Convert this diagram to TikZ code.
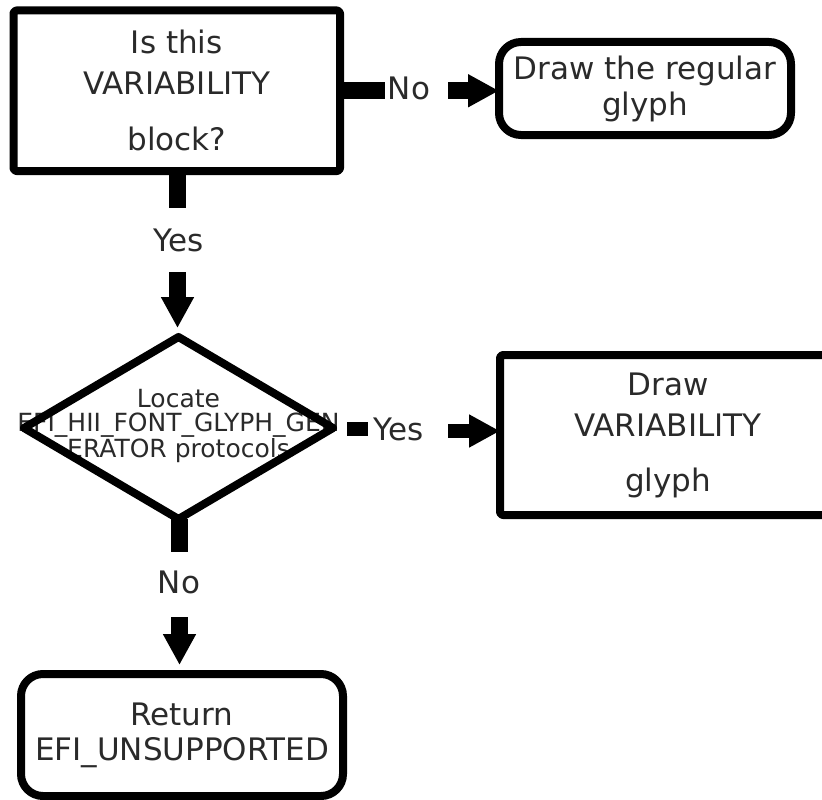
\documentclass[tikz,border=0pt]{standalone}
\usepackage{fontspec}
\setmainfont{DejaVu Sans}
\usetikzlibrary{arrows.meta,shapes.geometric}
\definecolor{txt}{HTML}{2A2A2A}
\begin{document}
\begin{tikzpicture}[x=1pt,y=-1pt,
  box/.style={draw=black, line width=8pt, fill=white, inner sep=0pt, outer sep=0pt, align=center, text=txt, font=\fontsize{31}{41}\selectfont, line join=round},
  sharpbox/.style={box, rounded corners=3pt},
  roundbox/.style={box, rounded corners=22pt},
  lbl/.style={text=txt, font=\fontsize{31}{37}\selectfont, inner sep=0pt},
  stub/.style={line width=17pt, line cap=butt},
  arr/.style={line width=17pt, -{Triangle[length=31pt,width=31pt]}},
]
\clip (0,0) rectangle (822,800);
\fill[white] (0,0) rectangle (822,800);

% boxes
\node[sharpbox, minimum width=326.5pt, minimum height=160.5pt] (q1) at (176.75,90.75) {Is this\\VARIABILITY\\[15pt]block?};
\node[roundbox, minimum width=292pt, minimum height=93pt, font=\fontsize{31}{36}\selectfont] (regular) at (645,88.5) {Draw the regular\\glyph};
\node[sharpbox, minimum width=336pt, minimum height=160pt] (varglyph) at (668,435) {Draw\\VARIABILITY\\[14pt]glyph};
\node[roundbox, minimum width=322pt, minimum height=122pt, font=\fontsize{31}{35}\selectfont] (ret) at (182,735) {Return\\EFI\_UNSUPPORTED};

% decision
\node[text=txt, font=\fontsize{25}{23.5}\selectfont, align=center, inner sep=0pt] (loctext) at (178.5,426) {Locate\\EFI\_HII\_FONT\_GLYPH\_GEN\\ERATOR protocols};
\node[diamond, draw=black, line width=8pt, line join=round, minimum width=309pt, minimum height=182pt, inner sep=0pt, outer sep=0pt] (dia) at (178.5,428) {};

% No -> regular glyph
\coordinate (c1) at (385,90.75);
\draw[stub] (q1.east) -- (c1);
\node[lbl] (no1) at (409,88) {No};
\coordinate (c2) at (448,90.75);
\draw[arr] (c2) -- (c2 -| regular.west);

% Yes -> decision
\coordinate (c3) at (177.5,208);
\draw[stub] (q1.south -| c3) -- (c3);
\node[lbl] (yes1) at (179,240) {Yes};
\coordinate (c4) at (177.5,272);
\draw[arr, shorten >=9pt] (c4) -- (c4 |- dia.north);

% Yes -> VARIABILITY glyph
\coordinate (c6) at (368,429);
\draw[line width=14pt, shorten <=14pt] (dia.east |- c6) -- (c6);
\node[lbl] (yes2) at (399,429) {Yes};
\coordinate (c7) at (448,431);
\draw[arr, line width=14pt] (c7) -- (c7 -| varglyph.west);

% No -> return
\coordinate (c8) at (179.5,552);
\draw[stub] (dia.south -| c8) -- (c8);
\node[lbl] (no2) at (179,582) {No};
\coordinate (c9) at (179.5,617);
\draw[arr, shorten >=9pt] (c9) -- (c9 |- ret.north);
\end{tikzpicture}
\end{document}
